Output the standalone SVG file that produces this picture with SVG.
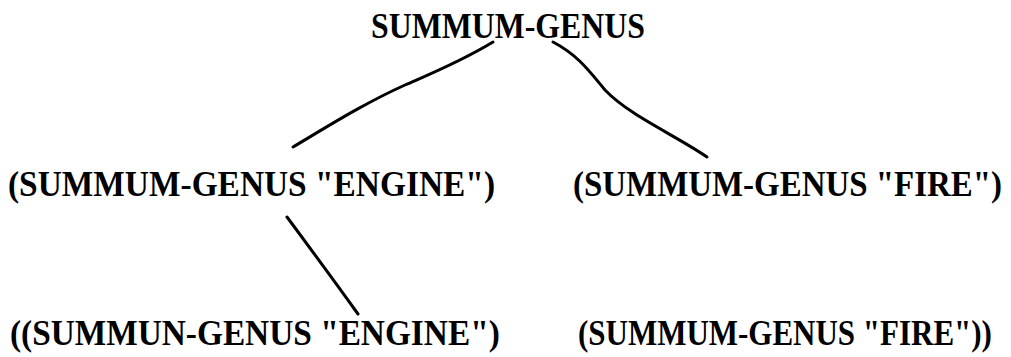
<svg xmlns="http://www.w3.org/2000/svg" width="1011" height="357" viewBox="0 0 1011 357">
<style>
  text { font-family: "Liberation Serif", "Times New Roman", serif; font-weight: bold; font-size: 36px; fill: #000; }
  .edge { fill: none; stroke: #000; stroke-width: 3; stroke-linecap: round; stroke-linejoin: round; }
</style>
<rect width="1011" height="357" fill="#fff"/>
<g id="connectors">
  <path class="edge" d="M493,42 C460,62 430,74 405,85 C365,103 330,125 293,147"/>
  <path class="edge" d="M553,42 C578,55 590,72 605,90 C630,116 675,135 707,157"/>
  <path class="edge" d="M287,217 C310,248 335,282 358,314"/>
</g>
<g id="n-root"><text transform="translate(371,38) scale(0.884,1)">SUMMUM-GENUS</text></g>
<g id="n-engine"><text transform="translate(8,196) scale(0.928,1)">(SUMMUM-GENUS "ENGINE")</text></g>
<g id="n-fire"><text transform="translate(573,196) scale(0.915,1)">(SUMMUM-GENUS "FIRE")</text></g>
<g id="n-list-engine"><text transform="translate(10,345) scale(0.926,1)">((SUMMUN-GENUS "ENGINE")</text></g>
<g id="n-list-fire"><text transform="translate(578,345) scale(0.861,1)">(SUMMUM-GENUS "FIRE"))</text></g>
</svg>
